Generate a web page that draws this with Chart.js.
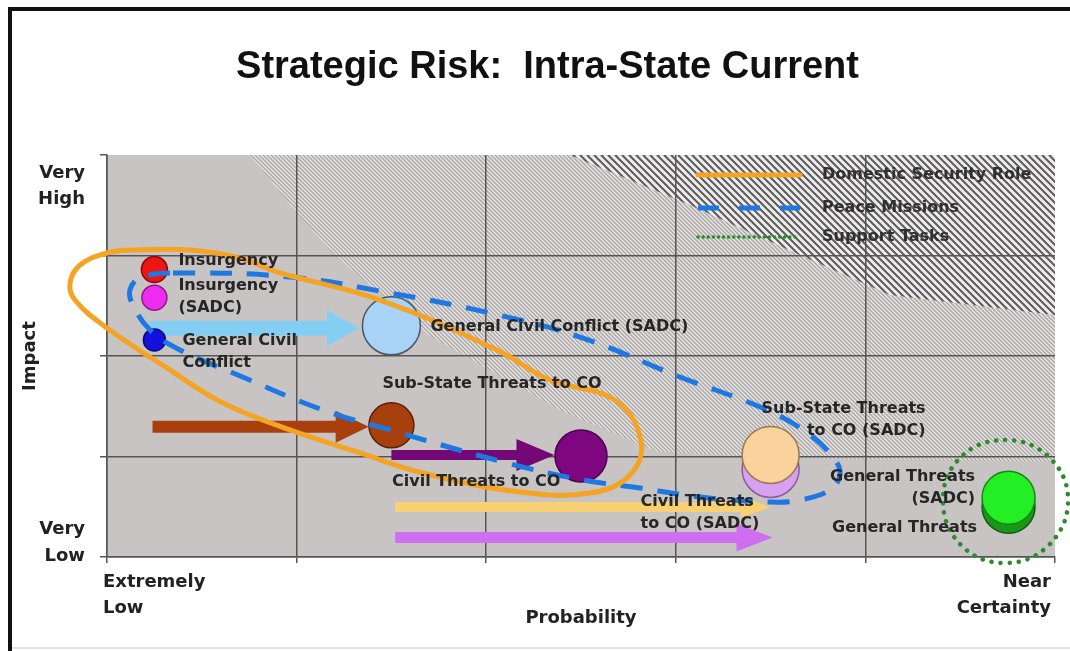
<!DOCTYPE html>
<html>
<head>
<meta charset="utf-8">
<title>Strategic Risk: Intra-State Current</title>
<script src="https://cdn.jsdelivr.net/npm/chart.js@4.4.1/dist/chart.umd.min.js"></script>
<style>
html,body{margin:0;padding:0;background:#ffffff;}
canvas{display:block;}
</style>
</head>
<body>
<canvas id="chart" width="1070" height="651"></canvas>
<script>
// ---------------- values ----------------
const chartTitle = 'Strategic Risk:  Intra-State Current';
const xAxisTitle = 'Probability';
const yAxisTitle = 'Impact';
const xTickLabels = [['Extremely', 'Low'], '', '', '', '', ['Near', 'Certainty']];
const yLowLabel = ['Very', 'Low'];
const yHighLabel = ['Very', 'High'];

// risks (bubbles)
const riskNames = [
  'Insurgency', 'Insurgency (SADC)', 'General Civil Conflict', 'General Civil Conflict (SADC)',
  'Sub-State Threats to CO', 'Civil Threats to CO', 'Civil Threats to CO (SADC)',
  'Sub-State Threats to CO (SADC)', 'General Threats', 'General Threats (SADC)'
];
const riskLabels = [
  ['Insurgency'], ['Insurgency', '(SADC)'], ['General Civil', 'Conflict'], ['General Civil Conflict (SADC)'],
  ['Sub-State Threats to CO'], ['Civil Threats to CO'], ['Civil Threats', 'to CO (SADC)'],
  ['Sub-State Threats', 'to CO (SADC)'], ['General Threats'], ['General Threats', '(SADC)']
];
const probability = [0.25, 0.25, 0.25, 1.50, 1.50, 2.50, 3.50, 3.50, 4.755, 4.755];
const impact      = [2.86, 2.58, 2.16, 2.30, 1.31, 1.005, 0.876, 1.015, 0.50, 0.59];

// shifts (arrows): probability from -> to, at an impact level
const shiftNames  = ['General Civil Conflict', 'Sub-State Threats to CO', 'Civil Threats to CO',
                     'Sub-State Threats to CO (SADC)', 'Civil Threats to CO (SADC)'];
const shiftFrom   = [0.22, 0.24, 1.50, 1.52, 1.52];
const shiftTo     = [1.33, 1.38, 2.36, 3.50, 3.51];
const shiftImpact = [2.275, 1.295, 1.015, 0.497, 0.194];

// role outlines (probability / impact)
const roleNames = ['Domestic Security Role', 'Peace Missions', 'Support Tasks'];
const domesticProb   = [1.440, 2.057, 2.336, 2.679, 2.816, 2.758, 2.547, 2.178, 1.667, 1.319, 0.965, 0.612, 0.316, 0.000, -0.169, -0.195, -0.142, 0.000, 0.137, 0.438, 0.701, 0.897];
const domesticImpact = [2.557, 2.060, 1.761, 1.562, 1.164, 0.816, 0.637, 0.647, 0.836, 1.045, 1.264, 1.532, 1.881, 2.279, 2.557, 2.726, 2.905, 3.025, 3.055, 3.055, 2.975, 2.836];
const peaceProb   = [0.348, 0.965, 1.493, 2.020, 2.495, 3.022, 3.481, 3.708, 3.840, 3.866, 3.813, 3.655, 3.497, 3.128, 2.811, 2.511, 2.110, 1.493, 1.139, 0.665, 0.385, 0.227, 0.137, 0.121, 0.174];
const peaceImpact = [2.826, 2.786, 2.627, 2.428, 2.189, 1.791, 1.463, 1.214, 0.965, 0.816, 0.667, 0.567, 0.547, 0.597, 0.687, 0.766, 0.935, 1.264, 1.463, 1.831, 2.060, 2.259, 2.507, 2.657, 2.776];
const supportProb   = [4.736, 4.968, 5.069, 4.968, 4.736, 4.504, 4.409, 4.504];
const supportImpact = [1.164, 0.995, 0.567, 0.119, -0.060, 0.119, 0.567, 0.995];

// shaded risk zones (upper-right boundaries)
const lightZoneProb   = [0.754, 1.002, 1.202, 1.704, 2.400, 2.900, 3.600, 5.000];
const lightZoneImpact = [4.000, 3.423, 3.000, 2.199, 1.453, 1.050, 0.980, 0.950];
const denseZoneProb   = [2.442, 3.075, 3.655, 4.130, 5.000];
const denseZoneImpact = [4.000, 3.502, 3.005, 2.607, 2.408];

// ---------------- styles ----------------
const style = {
  plotBg: '#c8c4c4',
  grid: '#555555',
  text: '#262626',
  bubbleFill:   ['#ee1414', '#ee2cee', '#1212dc', '#a8d2f6', '#a8400e', '#7e0680', '#d8a0f0', '#fad39c', '#1a961a', '#24ee24'],
  bubbleBorder: ['#8a0a0a', '#8a1a8a', '#08087a', '#4a5664', '#5a2004', '#4a004a', '#8a5a9a', '#9a7a50', '#0e5e0e', '#128a12'],
  bubbleRadius: [13, 12.5, 11, 29, 22.5, 26, 28.5, 28.5, 26.5, 26.5],
  labelOffset: [[24, -8.5], [24, -11.5], [28, 1], [39, 0.5], [-9, -41.5], [-189, 26], [-130, 33], [155, -46], [-31.5, 21], [-33.5, -20.5]],
  labelAlign: ['left', 'left', 'left', 'left', 'left', 'left', 'left', 'right', 'right', 'right'],
  labelFont: 'bold 16px "DejaVu Sans"',
  labelLine: 22,
  arrowColor: ['#84cef4', '#a8400e', '#740876', '#fad172', '#d06ef2'],
  arrowShaft: [15, 12, 10, 10, 11],
  arrowHeadLen: [32, 33, 38, 30, 36],
  arrowHeadHalf: [18, 16, 16, 11, 14],
  roleColor: ['#f4a322', '#1e78e4', '#2a8c2a'],
  roleWidth: [5, 5, 4.5],
  roleDash: [[], [22, 15], [0.1, 9]],
  roleCap: ['round', 'butt', 'round'],
  legendWidth: [5, 5, 3.5],
  legendDash: [[], [21, 20], [0.1, 5]]
};

Chart.defaults.font.family = '"DejaVu Sans", sans-serif';

function loop(xs, ys) {
  const n = xs.length;
  const idx = [n - 1];
  for (let i = 0; i < n; i++) idx.push(i);
  idx.push(0, 1);
  return idx.map(i => ({x: xs[i], y: ys[i]}));
}

function roleDataset(k, xs, ys) {
  const n = xs.length;
  const col = style.roleColor[k];
  return {
    label: roleNames[k],
    data: loop(xs, ys),
    showLine: true,
    tension: 0.4,
    capBezierPoints: false,
    borderColor: col,
    borderWidth: style.roleWidth[k],
    borderDash: style.roleDash[k],
    borderCapStyle: style.roleCap[k],
    pointRadius: 0,
    pointHitRadius: 0,
    fill: false,
    clip: false,
    order: 1,
    segment: {
      borderColor: c => (c.p0DataIndex === 0 || c.p0DataIndex === n + 1) ? 'rgba(0,0,0,0)' : col
    }
  };
}

const backdropPlugin = {
  id: 'backdrop',
  beforeDraw(chart) {
    const {ctx, chartArea: a, scales: {x, y}} = chart;
    ctx.save();
    ctx.fillStyle = '#ffffff';
    ctx.fillRect(0, 0, chart.width, chart.height);
    // page frame
    ctx.strokeStyle = '#111111';
    ctx.lineWidth = 4;
    ctx.beginPath();
    ctx.moveTo(10, chart.height);
    ctx.lineTo(10, 9);
    ctx.lineTo(chart.width, 9);
    ctx.stroke();
    ctx.strokeStyle = '#e2e2e2';
    ctx.lineWidth = 2;
    ctx.beginPath();
    ctx.moveTo(12, chart.height - 3);
    ctx.lineTo(chart.width, chart.height - 3);
    ctx.stroke();

    ctx.fillStyle = style.plotBg;
    ctx.fillRect(a.left, a.top, a.width, a.height);

    const zone = (xs, ys) => {
      ctx.beginPath();
      xs.forEach((v, i) => {
        const px = x.getPixelForValue(v), py = y.getPixelForValue(ys[i]);
        if (i) ctx.lineTo(px, py); else ctx.moveTo(px, py);
      });
      ctx.lineTo(x.getPixelForValue(x.max), y.getPixelForValue(y.max));
      ctx.closePath();
    };
    const hatch = (gap, off, w, color) => {
      ctx.strokeStyle = color;
      ctx.lineWidth = w;
      ctx.beginPath();
      for (let k = -a.height - gap; k < a.width + gap; k += gap) {
        ctx.moveTo(a.left + k + off, a.top);
        ctx.lineTo(a.left + k + off + a.height, a.bottom);
      }
      ctx.stroke();
    };
    ctx.save();
    ctx.beginPath(); ctx.rect(a.left, a.top, a.width, a.height); ctx.clip();
    zone(lightZoneProb, lightZoneImpact); ctx.clip();
    hatch(4, 0, 1, 'rgba(236,234,234,0.95)');
    hatch(4, 2, 1, 'rgba(150,146,146,0.55)');
    ctx.restore();
    ctx.save();
    ctx.beginPath(); ctx.rect(a.left, a.top, a.width, a.height); ctx.clip();
    zone(denseZoneProb, denseZoneImpact); ctx.clip();
    ctx.fillStyle = '#c4c2c2';
    ctx.fillRect(a.left, a.top, a.width, a.height);
    hatch(7, 0, 2.2, '#5e5c5c');
    hatch(7, 3.6, 2.6, '#ececec');
    ctx.restore();
    ctx.restore();
  },
  beforeDatasetsDraw(chart) {
    const {ctx, scales: {x, y}} = chart;
    ctx.save();
    shiftFrom.forEach((v, i) => {
      const x0 = x.getPixelForValue(v), x1 = x.getPixelForValue(shiftTo[i]);
      const py = y.getPixelForValue(shiftImpact[i]);
      const s = style.arrowShaft[i] / 2, hl = style.arrowHeadLen[i], hh = style.arrowHeadHalf[i];
      ctx.fillStyle = style.arrowColor[i];
      ctx.beginPath();
      ctx.moveTo(x0, py - s);
      ctx.lineTo(x1 - hl, py - s);
      ctx.lineTo(x1 - hl, py - hh);
      ctx.lineTo(x1, py);
      ctx.lineTo(x1 - hl, py + hh);
      ctx.lineTo(x1 - hl, py + s);
      ctx.lineTo(x0, py + s);
      ctx.closePath();
      ctx.fill();
    });
    ctx.restore();
  },
  afterDatasetsDraw(chart) {
    const {ctx, chartArea: a, scales: {x, y}} = chart;
    ctx.save();
    // point labels
    ctx.font = style.labelFont;
    ctx.fillStyle = style.text;
    ctx.textBaseline = 'middle';
    riskLabels.forEach((lines, i) => {
      const px = x.getPixelForValue(probability[i]) + style.labelOffset[i][0];
      const py = y.getPixelForValue(impact[i]) + style.labelOffset[i][1];
      ctx.textAlign = style.labelAlign[i];
      lines.forEach((t, j) => ctx.fillText(t, px, py + j * style.labelLine));
    });
    // legend
    const rows = [20, 53, 82];
    roleNames.forEach((name, k) => {
      const ly = a.top + rows[k];
      ctx.strokeStyle = style.roleColor[k];
      ctx.lineWidth = style.legendWidth[k];
      ctx.setLineDash(style.legendDash[k]);
      ctx.lineCap = style.roleCap[k];
      ctx.beginPath();
      ctx.moveTo(a.right - 357, ly);
      ctx.lineTo(a.right - 255, ly);
      ctx.stroke();
      ctx.setLineDash([]);
      ctx.fillStyle = '#303030';
      ctx.textAlign = 'left';
      ctx.fillText(name, a.right - 233, ly);
    });
    ctx.restore();
  },
  afterDraw(chart) {
    const {ctx, chartArea: a, scales: {y}} = chart;
    ctx.save();
    ctx.font = 'bold 18px "DejaVu Sans"';
    ctx.fillStyle = '#222222';
    ctx.textAlign = 'right';
    ctx.textBaseline = 'alphabetic';
    const xr = a.left - 22;
    const top = y.getPixelForValue(y.max), bot = y.getPixelForValue(y.min);
    ctx.fillText(yHighLabel[0], xr, top + 23);
    ctx.fillText(yHighLabel[1], xr, top + 49);
    ctx.fillText(yLowLabel[0], xr, bot - 23);
    ctx.fillText(yLowLabel[1], xr, bot + 4);
    ctx.restore();
  }
};

new Chart(document.getElementById('chart'), {
  type: 'scatter',
  data: {
    datasets: [
      {
        label: 'Risks',
        data: riskNames.map((n, i) => ({x: probability[i], y: impact[i]})),
        pointRadius: style.bubbleRadius,
        pointHoverRadius: style.bubbleRadius,
        pointBackgroundColor: style.bubbleFill,
        pointBorderColor: style.bubbleBorder,
        pointBorderWidth: 1.5,
        clip: false,
        order: 2
      },
      roleDataset(0, domesticProb, domesticImpact),
      roleDataset(1, peaceProb, peaceImpact),
      roleDataset(2, supportProb, supportImpact)
    ]
  },
  options: {
    responsive: false,
    animation: false,
    events: [],
    layout: {autoPadding: false, padding: {left: 40, right: 15, top: 0, bottom: 0}},
    plugins: {
      legend: {display: false},
      tooltip: {enabled: false},
      title: {
        display: true,
        text: chartTitle,
        color: '#111111',
        font: {family: '"Liberation Sans", Arial, sans-serif', size: 38, weight: 'bold'},
        padding: {top: 45, bottom: 64.4}
      }
    },
    scales: {
      x: {
        type: 'linear', min: 0, max: 5,
        afterFit: s => { s.height = 94; s.paddingLeft = 0; s.paddingRight = 0; },
        ticks: {
          stepSize: 1, autoSkip: false, maxRotation: 0, minRotation: 0, align: 'inner', padding: 6,
          labelOffset: -4,
          color: '#222222', font: {size: 18, weight: 'bold', lineHeight: 1.45},
          callback: (v, i) => xTickLabels[i]
        },
        grid: {
          color: c => (c.tick && c.tick.value === 5) ? 'rgba(0,0,0,0)' : style.grid,
          tickColor: style.grid, lineWidth: 1.5, tickLength: 6
        },
        border: {color: style.grid, width: 1.5},
        title: {display: true, text: xAxisTitle, color: '#222222', font: {size: 18, weight: 'bold'}, padding: {top: 0, bottom: 22}}
      },
      y: {
        type: 'linear', min: 0, max: 4,
        afterFit: s => { s.width = 67; s.paddingTop = 0; s.paddingBottom = 0; },
        ticks: {stepSize: 1, display: false},
        grid: {
          color: c => (c.tick && c.tick.value === 4) ? 'rgba(0,0,0,0)' : style.grid,
          tickColor: style.grid, lineWidth: 1.5, tickLength: 7
        },
        border: {color: style.grid, width: 1.5},
        title: {display: true, text: yAxisTitle, color: '#222222', font: {size: 18, weight: 'bold'}, padding: {top: -20, bottom: 0}}
      }
    }
  },
  plugins: [backdropPlugin]
});
</script>
</body>
</html>
